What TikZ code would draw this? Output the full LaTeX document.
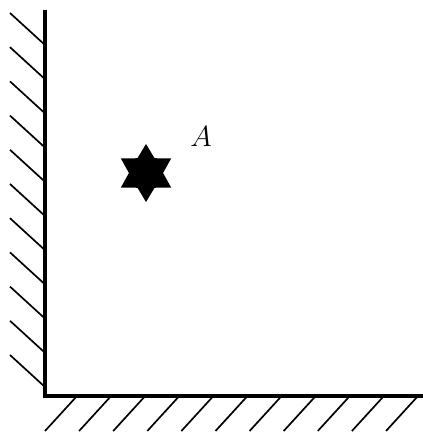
\documentclass[tikz,border=0pt]{standalone}
\usepackage{tikz}
\usetikzlibrary{shapes.geometric, positioning}
\tikzstyle{wall} = [line width=2.4pt, line cap=rect]
\tikzstyle{hatch} = [line width=1.2pt]

\begin{document}
\begin{tikzpicture}[
    x=0.025cm, y=0.025cm,
    point/.style={star, star points=6, star point ratio=1.7, fill=black, inner sep=0pt, minimum size=1.45cm},
    lbl/.style={font=\huge}
]
\useasboundingbox (0,0) rectangle (422,432);
% walls
\coordinate (top) at (45,420);
\coordinate (corner) at (45,36);
\coordinate (right) at (422,36);
\draw[wall] (top) -- (corner) -- (right);
% hatching
\foreach \i in {0,...,10} {
    \draw[hatch] (10,{419-34.2*\i}) -- (45,{387-34.2*\i});
    \draw[hatch] ({77+34.1*\i},36) -- ({45+34.1*\i},1);
}
% point A
\node[point] (starA) at (146,259) {};
\node[lbl] (labA) at (201,295) {$A$};
\end{tikzpicture}
\end{document}
